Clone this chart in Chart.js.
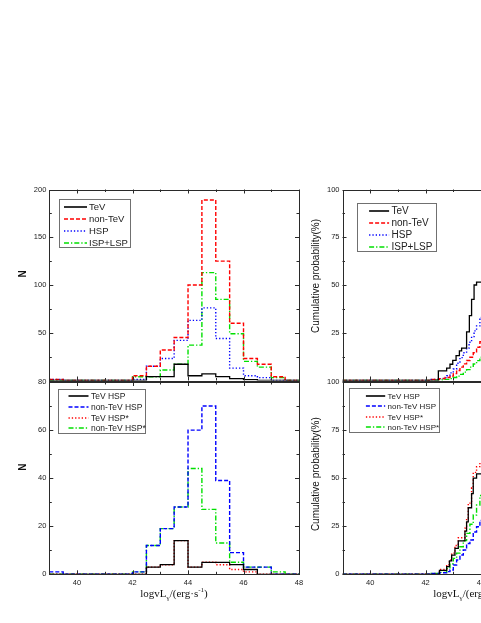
<!DOCTYPE html>
<html>
<head>
<meta charset="utf-8">
<script src="https://cdn.jsdelivr.net/npm/chart.js@4.4.1/dist/chart.umd.min.js"></script>
<style>
  html, body { margin: 0; padding: 0; background: #fff; overflow: hidden; }
  #page { position: relative; width: 481px; height: 623px; overflow: hidden; }
  canvas { position: absolute; }
  .xlabel {
    position: absolute;
    text-align: center;
    font-family: "Liberation Serif", "Times New Roman", serif;
    font-size: 11px;
    color: #111;
    white-space: nowrap;
  }
  .xlabel sub, .xlabel sup { font-size: 7px; }
</style>
</head>
<body>
<div id="page">
  <canvas id="histTop" width="310" height="218" style="left:0;top:170px"></canvas>
  <canvas id="histBottom" width="310" height="251" style="left:0;top:372px"></canvas>
  <canvas id="cumTop" width="320" height="218" style="left:300px;top:170px"></canvas>
  <canvas id="cumBottom" width="320" height="251" style="left:300px;top:372px"></canvas>
  <div class="xlabel" style="left:0;width:348px;top:586px">logvL<sub>γ</sub>/(erg·s<sup>-1</sup>)</div>
  <div class="xlabel" style="left:367px;width:200px;top:586px">logvL<sub>γ</sub>/(erg·s<sup>-1</sup>)</div>
</div>
<script>
// histogram bin edges (0.5 wide)
const binEdges = [39, 39.5, 40, 40.5, 41, 41.5, 42, 42.5, 43, 43.5, 44, 44.5, 45, 45.5, 46, 46.5, 47, 47.5, 48];

// top-left panel counts
const tevCounts    = [0, 0, 0, 0, 0, 0, 0, 4, 4, 17, 5, 7, 4, 2, 1, 0, 0, 0];
const nonTevCounts = [1, 0, 0, 0, 0, 0, 5, 15, 32, 45, 100, 189, 125, 60, 23, 17, 4, 0];
const hspCounts    = [1, 0, 0, 0, 0, 0, 1, 15, 23, 42, 63, 76, 44, 13, 5, 3, 0, 0];
const ispLspCounts = [0, 0, 0, 0, 0, 0, 4, 4, 11, 17, 37, 113, 85, 49, 20, 14, 3, 0];

// bottom-left panel counts
const tevHspCounts        = [0, 0, 0, 0, 0, 0, 0, 3, 4, 14, 3, 5, 5, 4, 2, 0, 0, 0];
const nonTevHspCounts     = [1, 0, 0, 0, 0, 0, 1, 12, 19, 28, 60, 70, 39, 9, 3, 3, 0, 0];
const tevHspStarCounts    = [0, 0, 0, 0, 0, 0, 0, 3, 4, 14, 3, 5, 4, 2, 1, 0, 0, 0];
const nonTevHspStarCounts = [0, 0, 0, 0, 0, 0, 1, 12, 19, 28, 44, 27, 13, 5, 3, 3, 1, 0];

// top-right panel cumulative probability (%)
const tevCumX    = [39, 42.46, 42.76, 42.88, 42.98, 43.1, 43.22, 43.3, 43.48, 43.58, 43.66, 43.75, 43.84, 44.3];
const tevCumY    = [0, 5, 6.5, 8.5, 10.5, 13, 15.5, 17, 25.5, 34, 42.5, 50, 51.5, 51.5];
const nonTevCumX = [39, 42.2, 42.5, 42.7, 42.88, 43.0, 43.12, 43.24, 43.36, 43.48, 43.6, 43.72, 43.84, 43.96, 44.3];
const nonTevCumY = [0, 0.5, 1, 1.6, 2.3, 3.6, 5.2, 7, 8.7, 10.5, 12.2, 14.5, 17.4, 20.3, 21];
const hspCumX    = [39, 42.2, 42.5, 42.64, 42.76, 42.88, 43.0, 43.12, 43.24, 43.36, 43.48, 43.57, 43.66, 43.75, 43.84, 43.96, 44.3];
const hspCumY    = [0, 0.5, 1, 1.5, 2.5, 4, 6, 9, 12, 14.5, 17, 20, 23, 26, 28.6, 33, 34];
const ispLspCumX = [39, 42.2, 42.6, 42.88, 43.0, 43.12, 43.24, 43.36, 43.48, 43.6, 43.72, 43.84, 43.96, 44.3];
const ispLspCumY = [0, 0.3, 0.6, 1, 1.6, 2.3, 3.2, 4.4, 5.7, 7, 8.6, 10.4, 12.2, 13];

// bottom-right panel cumulative probability (%)
const tevHspCumX        = [39, 42.5, 42.76, 42.86, 42.94, 43.06, 43.18, 43.42, 43.48, 43.54, 43.66, 43.72, 43.84, 44.3];
const tevHspCumY        = [0, 2, 4, 7, 10, 13.5, 17.4, 22.5, 27.3, 34.6, 42, 50, 52.2, 52.2];
const tevHspStarCumX    = [39, 42.5, 42.76, 42.86, 42.94, 43.06, 43.18, 43.42, 43.48, 43.54, 43.66, 43.72, 43.84, 43.96, 44.3];
const tevHspStarCumY    = [0, 2.5, 5, 7.5, 11, 15, 19, 24, 29, 37, 45, 53, 56, 58, 58];
const nonTevHspCumX     = [39, 42.2, 42.5, 42.76, 42.88, 43.0, 43.12, 43.24, 43.36, 43.48, 43.6, 43.72, 43.84, 43.96, 44.3];
const nonTevHspCumY     = [0, 0.5, 0.8, 1.4, 2.2, 4.8, 7.4, 10, 12.6, 16, 17.8, 22, 24.7, 28, 29];
const nonTevHspStarCumY = [0, 0.5, 1, 3, 5.5, 8.3, 11, 14.3, 17.5, 21.3, 26, 30.8, 36, 41, 42];

// tick positions
const xMajor = [40, 42, 44, 46, 48];
const xMinor = [41, 43, 45, 47];

const FONT = '"Liberation Sans", Arial, sans-serif';

const histPoints = (counts) => {
  const pts = counts.map((c, i) => ({ x: binEdges[i], y: c }));
  pts.push({ x: binEdges[counts.length], y: 0 });
  return pts;
};
const cumPoints = (xs, ys) => xs.map((x, i) => ({ x: x, y: ys[i] }));

const styles = {
  black: { borderColor: "#000000", borderWidth: 1.3, borderDash: [] },
  redDash: { borderColor: "#ff0000", borderWidth: 1.4, borderDash: [4, 2] },
  blueDot: { borderColor: "#0000ff", borderWidth: 1.4, borderDash: [1.3, 2] },
  blueDash: { borderColor: "#0000ff", borderWidth: 1.4, borderDash: [4, 2] },
  redDot: { borderColor: "#ff0000", borderWidth: 1.4, borderDash: [1.3, 2] },
  greenDashDot: { borderColor: "#00e000", borderWidth: 1.4, borderDash: [5, 2, 1.3, 2] },
};

// draws frame, inward ticks, rotated y title and boxed legend
const panelDecor = {
  id: "panelDecor",
  afterDatasetsDraw(chart, args, opts) {
    const { ctx, chartArea: a } = chart;
    const xs = chart.scales.x;
    const ys = chart.scales.y;
    ctx.save();
    ctx.strokeStyle = "#2a2a2a";
    ctx.lineWidth = 1;
    ctx.setLineDash([]);
    ctx.beginPath();
    const seg = (x1, y1, x2, y2) => { ctx.moveTo(x1, y1); ctx.lineTo(x2, y2); };
    const xTick = (v, len) => {
      const p = Math.round(xs.getPixelForValue(v)) + 0.5;
      seg(p, a.bottom, p, a.bottom - len);
      seg(p, a.top, p, a.top + len);
    };
    const yTick = (v, len) => {
      const p = Math.round(ys.getPixelForValue(v)) + 0.5;
      seg(a.left, p, a.left + len, p);
      seg(a.right, p, a.right - len, p);
    };
    xMajor.forEach((v) => xTick(v, 4));
    xMinor.forEach((v) => xTick(v, 2.5));
    opts.yMajor.forEach((v) => yTick(v, 4));
    opts.yMinor.forEach((v) => yTick(v, 2.5));
    ctx.stroke();
    ctx.strokeRect(Math.round(a.left) + 0.5, Math.round(a.top) + 0.5,
      Math.round(a.right - a.left), Math.round(a.bottom - a.top));

    // y axis title
    ctx.save();
    ctx.translate(a.left + opts.title.dx, (a.top + a.bottom) / 2 + opts.title.dy);
    ctx.rotate(-Math.PI / 2);
    ctx.textAlign = "center";
    ctx.textBaseline = "middle";
    ctx.fillStyle = "#111";
    ctx.font = opts.title.font;
    ctx.fillText(opts.title.text, 0, 0);
    ctx.restore();

    // legend box
    const lg = opts.legend;
    const bx = Math.round(a.left + lg.x) + 0.5;
    const by = Math.round(a.top + lg.y) + 0.5;
    ctx.fillStyle = "#fff";
    ctx.fillRect(bx, by, lg.w, lg.h);
    ctx.strokeStyle = "#707070";
    ctx.lineWidth = 1;
    ctx.strokeRect(bx, by, lg.w, lg.h);
    ctx.font = lg.size + "px " + FONT;
    ctx.textBaseline = "middle";
    ctx.textAlign = "left";
    chart.data.datasets.forEach((ds, i) => {
      const y = Math.round(by + lg.first + i * lg.step);
      ctx.strokeStyle = ds.borderColor;
      ctx.lineWidth = 1.6;
      ctx.setLineDash(ds.borderDash);
      ctx.beginPath();
      ctx.moveTo(bx + lg.lineFrom, y);
      ctx.lineTo(bx + lg.lineTo, y);
      ctx.stroke();
      ctx.setLineDash([]);
      ctx.fillStyle = "#222";
      ctx.fillText(ds.label, bx + lg.textX, y + 0.5);
    });
    ctx.restore();
  },
};

const makeChart = (id, datasets, cfg) => {
  const ctx = document.getElementById(id).getContext("2d");
  return new Chart(ctx, {
    type: "line",
    data: { datasets: datasets },
    options: {
      responsive: false,
      animation: false,
      events: [],
      layout: { padding: cfg.padding },
      elements: { point: { radius: 0 }, line: { tension: 0 } },
      scales: {
        x: {
          type: "linear",
          min: 39,
          max: 48,
          display: cfg.showX,
          grid: { display: false, drawTicks: false },
          border: { display: false },
          ticks: {
            padding: 4,
            color: "#222",
            font: { family: FONT, size: 7.5 },
          },
          afterBuildTicks: (s) => { s.ticks = xMajor.map((v) => ({ value: v })); },
          afterFit: (s) => { s.height = cfg.xHeight; },
        },
        y: {
          min: cfg.yMin,
          max: cfg.yMax,
          grid: { display: false, drawTicks: false },
          border: { display: false },
          ticks: {
            stepSize: cfg.yStep,
            padding: 3,
            color: "#222",
            font: { family: FONT, size: 7.5 },
            callback: (v) => (cfg.hideZero && v === 0 ? "" : v),
          },
          afterFit: (s) => { s.width = cfg.yWidth; },
        },
      },
      plugins: {
        legend: { display: false },
        tooltip: { enabled: false },
        panelDecor: cfg.decor,
      },
    },
    plugins: [panelDecor],
  });
};

const histSet = (label, counts, style) => Object.assign({
  label: label, data: histPoints(counts), stepped: "before", fill: false,
}, style);
const cumSet = (label, xs, ys, style) => Object.assign({
  label: label, data: cumPoints(xs, ys), stepped: "before", fill: false,
}, style);

makeChart("histTop", [
  histSet("TeV", tevCounts, styles.black),
  histSet("non-TeV", nonTevCounts, styles.redDash),
  histSet("HSP", hspCounts, styles.blueDot),
  histSet("ISP+LSP", ispLspCounts, styles.greenDashDot),
], {
  padding: { left: 0, top: 19.5, right: 11, bottom: 6 },
  showX: false, xHeight: 0, yWidth: 49.3,
  yMin: 0, yMax: 200, yStep: 50, hideZero: true,
  decor: {
    yMajor: [0, 50, 100, 150, 200], yMinor: [25, 75, 125, 175],
    title: { text: "N", dx: -26.5, dy: -11, font: "bold 10px " + FONT },
    legend: { x: 9.4, y: 9.5, w: 71, h: 48, first: 7, step: 12, lineFrom: 4.5, lineTo: 27.5, textX: 29.5, size: 9.5 },
  },
});

makeChart("histBottom", [
  histSet("TeV HSP", tevHspCounts, styles.black),
  histSet("non-TeV HSP", nonTevHspCounts, styles.blueDash),
  histSet("TeV HSP*", tevHspStarCounts, styles.redDot),
  histSet("non-TeV HSP*", nonTevHspStarCounts, styles.greenDashDot),
], {
  padding: { left: 0, top: 10, right: 11, bottom: 0 },
  showX: true, xHeight: 48.7, yWidth: 49.3,
  yMin: 0, yMax: 80, yStep: 20, hideZero: false,
  decor: {
    yMajor: [0, 20, 40, 60, 80], yMinor: [10, 30, 50, 70],
    title: { text: "N", dx: -26.5, dy: -11, font: "bold 10px " + FONT },
    legend: { x: 9, y: 7, w: 87, h: 44, first: 6.7, step: 10.7, lineFrom: 10, lineTo: 30, textX: 32.4, size: 8.5 },
  },
});

makeChart("cumTop", [
  cumSet("TeV", tevCumX, tevCumY, styles.black),
  cumSet("non-TeV", nonTevCumX, nonTevCumY, styles.redDash),
  cumSet("HSP", hspCumX, hspCumY, styles.blueDot),
  cumSet("ISP+LSP", ispLspCumX, ispLspCumY, styles.greenDashDot),
], {
  padding: { left: 0, top: 19.5, right: 28.2, bottom: 6 },
  showX: false, xHeight: 0, yWidth: 42.5,
  yMin: 0, yMax: 100, yStep: 25, hideZero: true,
  decor: {
    yMajor: [0, 25, 50, 75, 100], yMinor: [12.5, 37.5, 62.5, 87.5],
    title: { text: "Cumulative probability(%)", dx: -26.5, dy: -9, font: "10px " + FONT },
    legend: { x: 14.2, y: 13.8, w: 79, h: 48, first: 7.4, step: 12, lineFrom: 11.6, lineTo: 31.6, textX: 34, size: 10 },
  },
});

makeChart("cumBottom", [
  cumSet("TeV HSP", tevHspCumX, tevHspCumY, styles.black),
  cumSet("non-TeV HSP", nonTevHspCumX, nonTevHspCumY, styles.blueDash),
  cumSet("TeV HSP*", tevHspStarCumX, tevHspStarCumY, styles.redDot),
  cumSet("non-TeV HSP*", nonTevHspCumX, nonTevHspStarCumY, styles.greenDashDot),
], {
  padding: { left: 0, top: 10, right: 28.2, bottom: 0 },
  showX: true, xHeight: 48.7, yWidth: 42.5,
  yMin: 0, yMax: 100, yStep: 25, hideZero: false,
  decor: {
    yMajor: [0, 25, 50, 75, 100], yMinor: [12.5, 37.5, 62.5, 87.5],
    title: { text: "Cumulative probability(%)", dx: -26.5, dy: -4, font: "10px " + FONT },
    legend: { x: 6.8, y: 6.3, w: 90, h: 44, first: 7.4, step: 10.5, lineFrom: 16.4, lineTo: 35.7, textX: 38, size: 8 },
  },
});
</script>
</body>
</html>
